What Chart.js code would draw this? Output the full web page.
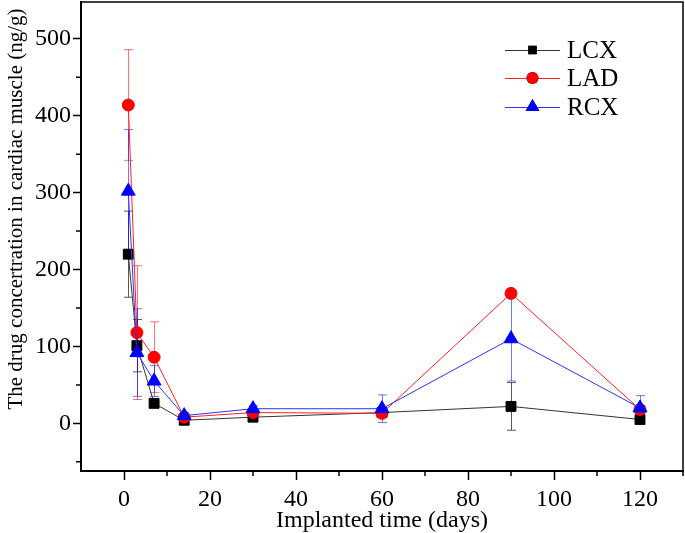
<!DOCTYPE html>
<html>
<head>
<meta charset="utf-8">
<script src="https://cdn.jsdelivr.net/npm/chart.js@4"></script>
<style>
  html, body { margin: 0; padding: 0; background: #fff; }
  #wrap { width: 685px; height: 533px; }
</style>
</head>
<body>
<div id="wrap"><canvas id="chart" width="685" height="533"></canvas></div>
<script>
// === Data ===
const days = [1, 3, 7, 14, 30, 60, 90, 120];
const lcx = [220, 101, 26, 4, 8, 14, 22, 5];
const lcxErr = [56, 34, 5, 3, 3, 3, 31, 4];
const lad = [414, 118, 86, 8, 14, 13, 169, 18];
const ladErr = [72, 87, 46, 3, 4, 4, 3, 5];
const rcx = [302, 92, 55, 10, 19, 19, 110, 20];
const rcxErr = [80, 57, 20, 4, 4, 18, 55, 16];
const seriesNames = ["LCX", "LAD", "RCX"];
const xTitle = "Implanted time (days)";
const yTitle = "The drug concertration in cardiac muscle (ng/g)";

const FONT = "'Liberation Serif', 'Times New Roman', serif";

function pts(ys) {
  return days.map((d, i) => ({ x: d, y: ys[i] }));
}

// no auto padding for edge labels, the plot box is fixed
function noPad(s) {
  s.paddingTop = 0; s.paddingBottom = 0;
  s.paddingLeft = 0; s.paddingRight = 0;
}

// error bars, frame, minor ticks, legend, y title
const extras = {
  id: "extras",
  beforeDatasetsDraw(chart) {
    const ctx = chart.ctx;
    const xs = chart.scales.x, ys = chart.scales.y;
    chart.data.datasets.forEach(ds => {
      ctx.save();
      ctx.strokeStyle = ds.errColor;
      ctx.lineWidth = 1;
      ds.data.forEach((p, i) => {
        const e = ds.errors[i];
        const px = Math.round(xs.getPixelForValue(p.x)) + 0.5;
        const top = ys.getPixelForValue(p.y + e);
        const bot = ys.getPixelForValue(p.y - e);
        ctx.beginPath();
        ctx.moveTo(px, top); ctx.lineTo(px, bot);
        ctx.moveTo(px - 4.5, top); ctx.lineTo(px + 4.5, top);
        ctx.moveTo(px - 4.5, bot); ctx.lineTo(px + 4.5, bot);
        ctx.stroke();
      });
      ctx.restore();
    });
  },
  afterDraw(chart) {
    const ctx = chart.ctx;
    const a = chart.chartArea;
    const xs = chart.scales.x, ys = chart.scales.y;
    ctx.save();
    ctx.strokeStyle = "#000";
    ctx.lineWidth = 1.5;
    // top + right frame
    ctx.beginPath();
    ctx.moveTo(a.left, a.top); ctx.lineTo(a.right, a.top); ctx.lineTo(a.right, a.bottom);
    ctx.stroke();
    // minor ticks
    ctx.beginPath();
    for (let v = 10; v <= 130; v += 20) {
      const px = xs.getPixelForValue(v);
      ctx.moveTo(px, a.bottom); ctx.lineTo(px, a.bottom + 5);
    }
    for (let v = -50; v <= 550; v += 100) {
      if (v < ys.min || v > ys.max) continue;
      const py = ys.getPixelForValue(v);
      ctx.moveTo(a.left, py); ctx.lineTo(a.left - 5, py);
    }
    ctx.stroke();

    // y title
    ctx.fillStyle = "#000";
    ctx.font = "21px " + FONT;
    ctx.textAlign = "center";
    ctx.textBaseline = "middle";
    ctx.translate(16, 209);
    ctx.rotate(-Math.PI / 2);
    ctx.fillText(yTitle, 0, 0);
    ctx.restore();

    // legend
    ctx.save();
    const lx0 = 505, lx1 = 560, ly = [50, 78, 107];
    chart.data.datasets.forEach((ds, i) => {
      const y = ly[i];
      ctx.strokeStyle = ds.borderColor;
      ctx.lineWidth = 1;
      ctx.beginPath();
      ctx.moveTo(lx0, y + 0.5); ctx.lineTo(lx1, y + 0.5);
      ctx.stroke();
      Chart.helpers.drawPoint(ctx, {
        pointStyle: ds.pointStyle,
        radius: ds.legendRadius,
        rotation: 0,
        borderWidth: 0
      }, (lx0 + lx1) / 2, y);
      ctx.fillStyle = ds.pointBackgroundColor;
      ctx.fill();
      ctx.fillStyle = "#000";
      ctx.font = "25px " + FONT;
      ctx.textAlign = "left";
      ctx.textBaseline = "middle";
      ctx.fillText(seriesNames[i], 567, y + 1);
    });
    ctx.restore();
  }
};

const ctx = document.getElementById("chart").getContext("2d");
new Chart(ctx, {
  type: "line",
  data: {
    datasets: [
      {
        label: seriesNames[0],
        data: pts(lcx),
        errors: lcxErr,
        errColor: "rgba(0,0,0,0.65)",
        borderColor: "#333",
        backgroundColor: "#000",
        pointBackgroundColor: "#000",
        pointBorderColor: "#000",
        pointStyle: "rect",
        pointRadius: 7,
        legendRadius: 6,
        borderWidth: 1,
        order: 2
      },
      {
        label: seriesNames[1],
        data: pts(lad),
        errors: ladErr,
        errColor: "rgba(255,0,0,0.55)",
        borderColor: "#ff2020",
        backgroundColor: "#ff0000",
        pointBackgroundColor: "#ff0000",
        pointBorderColor: "#ff0000",
        pointStyle: "circle",
        pointRadius: 6,
        legendRadius: 6,
        borderWidth: 1,
        order: 1
      },
      {
        label: seriesNames[2],
        data: pts(rcx),
        errors: rcxErr,
        errColor: "rgba(0,0,255,0.55)",
        borderColor: "#3030ff",
        backgroundColor: "#0000ff",
        pointBackgroundColor: "#0000ff",
        pointBorderColor: "#0000ff",
        pointStyle: "triangle",
        pointRadius: 8,
        legendRadius: 8,
        borderWidth: 1,
        order: 0
      }
    ]
  },
  options: {
    responsive: false,
    animation: false,
    clip: false,
    layout: { autoPadding: false, padding: { top: 2, right: 2, left: 0, bottom: 0 } },
    plugins: {
      legend: { display: false },
      tooltip: { enabled: false }
    },
    elements: { point: { borderWidth: 0 }, line: { tension: 0 } },
    scales: {
      x: {
        type: "linear",
        min: -10,
        max: 130,
        afterFit: s => { s.height = 62; noPad(s); },
        border: { color: "#000", width: 2 },
        grid: { drawOnChartArea: false, tickLength: 9, tickWidth: 1.5,
          tickColor: c => (c.tick && c.tick.value % 20 === 0 ? "#000" : "rgba(0,0,0,0)") },
        ticks: {
          stepSize: 10,
          includeBounds: false,
          color: "#000",
          padding: 5,
          maxRotation: 0,
          autoSkip: false,
          font: { family: FONT, size: 24 },
          callback: v => (v % 20 === 0 && v >= 0 && v <= 120 ? v : "")
        },
        title: {
          display: true,
          text: xTitle,
          color: "#000",
          font: { family: FONT, size: 24, lineHeight: 1.0 },
          padding: { top: 0, bottom: 0 }
        }
      },
      y: {
        type: "linear",
        min: -62,
        max: 548,
        afterFit: s => { s.width = 81; noPad(s); },
        border: { color: "#000", width: 2 },
        grid: { drawOnChartArea: false, tickLength: 8, tickWidth: 1.5,
          tickColor: c => (c.tick && c.tick.value % 100 === 0 ? "#000" : "rgba(0,0,0,0)") },
        ticks: {
          stepSize: 50,
          includeBounds: false,
          color: "#000",
          padding: 2,
          autoSkip: false,
          font: { family: FONT, size: 24 },
          callback: v => (v % 100 === 0 && v >= 0 && v <= 500 ? v : "")
        }
      }
    }
  },
  plugins: [extras]
});
</script>
</body>
</html>
